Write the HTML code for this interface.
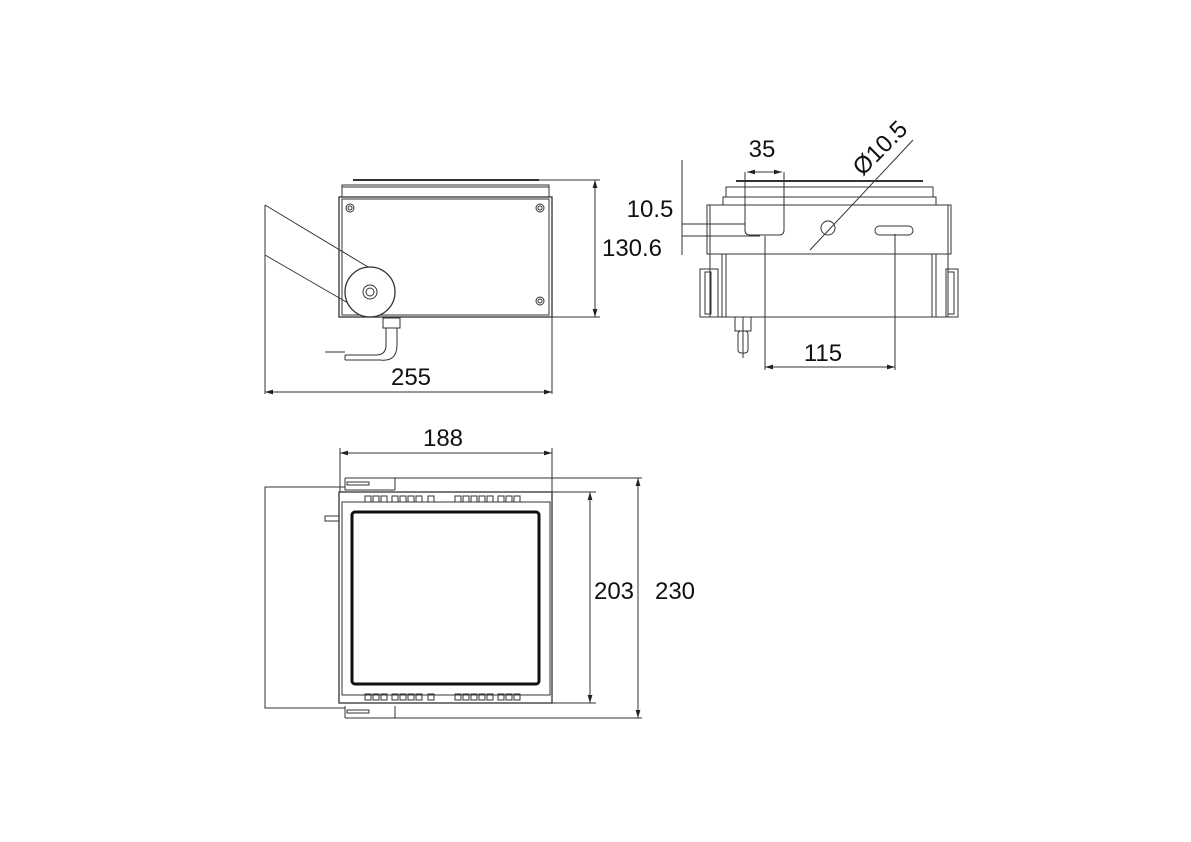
<!DOCTYPE html>
<html><head><meta charset="utf-8"><style>
html,body{margin:0;padding:0;background:#fff}
svg{display:block}
text{font-family:"Liberation Sans",sans-serif;font-size:24px;fill:#111}
</style></head><body>
<svg width="1191" height="842" viewBox="0 0 1191 842" xmlns="http://www.w3.org/2000/svg">
<defs>
<marker id="a" viewBox="0 0 10 6" refX="10" refY="3" markerWidth="8" markerHeight="5" orient="auto-start-reverse"><path d="M0,0L10,3L0,6z" fill="#222"/></marker>
</defs>
<g fill="none" stroke="#333" stroke-width="1">
<!-- SIDE VIEW -->
<line x1="353" y1="180" x2="539" y2="180" stroke-width="2"/>
<rect x="342" y="185" width="207" height="12"/>
<line x1="342" y1="187" x2="549" y2="187"/>
<rect x="339" y="197" width="213" height="120" stroke-width="1.3"/>
<rect x="342" y="199" width="207" height="116"/>
<circle cx="350" cy="208" r="4"/><circle cx="350" cy="208" r="2"/>
<circle cx="540" cy="208" r="4"/><circle cx="540" cy="208" r="2"/>
<circle cx="540" cy="301" r="4"/><circle cx="540" cy="301" r="2"/>
<path d="M265,205 L373,270 M265,255 L348,303 M265,205 L265,255" fill="#fff"/>
<circle cx="370" cy="292" r="25" fill="#fff" stroke-width="1.3"/>
<circle cx="370" cy="292" r="7"/><circle cx="370" cy="292" r="4"/>
<rect x="383" y="318" width="17" height="10"/>
<path d="M386,328 L386,345 Q386,355 376,355 L345,355 M397,328 L397,345 Q397,362 380,360 L345,360"/>
<line x1="345" y1="355" x2="345" y2="360"/>
<line x1="325" y1="352" x2="345" y2="352"/>
<!-- dims side -->
<line x1="265" y1="255" x2="265" y2="394"/>
<line x1="552" y1="317" x2="552" y2="394"/>
<line x1="265" y1="392" x2="552" y2="392" marker-start="url(#a)" marker-end="url(#a)"/>
<line x1="539" y1="180" x2="600" y2="180"/>
<line x1="552" y1="317" x2="600" y2="317"/>
<line x1="595" y1="180" x2="595" y2="317" marker-start="url(#a)" marker-end="url(#a)"/>

<!-- FRONT VIEW -->
<line x1="736" y1="181" x2="923" y2="181" stroke-width="2"/>
<path d="M726,197 L726,187 L933,187 L933,197"/>
<path d="M723,205 L723,197 L936,197 L936,205"/>
<rect x="707" y="205" width="244" height="49"/>
<line x1="710" y1="205" x2="710" y2="254"/><line x1="948" y1="205" x2="948" y2="254"/>
<rect x="710" y="254" width="238" height="63"/>
<line x1="722" y1="254" x2="722" y2="317"/><line x1="726" y1="254" x2="726" y2="317"/>
<line x1="936" y1="254" x2="936" y2="317"/><line x1="932" y1="254" x2="932" y2="317"/>
<rect x="700" y="269" width="18" height="48"/><rect x="705" y="272" width="6" height="42"/>
<rect x="946" y="269" width="12" height="48"/><rect x="948" y="272" width="6" height="42"/>
<path d="M745,172 L745,230 Q745,235 750,235 L779,235 Q784,235 784,230 L784,172"/>
<rect x="875" y="226" width="38" height="9" rx="4.5"/>
<circle cx="828" cy="228" r="7"/>
<line x1="913" y1="140" x2="810" y2="250"/>
<rect x="735" y="317" width="16" height="14"/>
<rect x="738" y="331" width="10" height="22" rx="3"/>
<line x1="743" y1="317" x2="743" y2="358"/>
<!-- dims front -->
<line x1="747" y1="172" x2="782" y2="172" marker-start="url(#a)" marker-end="url(#a)"/>
<line x1="682" y1="160" x2="682" y2="255"/>
<line x1="682" y1="224" x2="745" y2="224"/>
<line x1="682" y1="236" x2="760" y2="236"/>
<line x1="765" y1="236" x2="765" y2="370"/>
<line x1="895" y1="234" x2="895" y2="370"/>
<line x1="765" y1="367" x2="895" y2="367" marker-start="url(#a)" marker-end="url(#a)"/>

<!-- TOP VIEW -->
<line x1="340" y1="453" x2="552" y2="453" marker-start="url(#a)" marker-end="url(#a)"/>
<line x1="340" y1="448" x2="340" y2="492"/>
<line x1="552" y1="448" x2="552" y2="492"/>
<path d="M345,487 L265,487 L265,708 L345,708"/>
<path d="M345,478 L395,478 L395,490 M345,478 L345,490 L395,490"/>
<rect x="347" y="482" width="22" height="3" stroke-width="1"/>
<path d="M345,718 L395,718 L395,706 M345,706 L345,718"/>
<rect x="347" y="710" width="22" height="3"/>
<line x1="395" y1="478" x2="642" y2="478"/>
<line x1="395" y1="718" x2="642" y2="718"/>
<rect x="339" y="492" width="213" height="211" stroke-width="1.3"/>
<rect x="342" y="502" width="208" height="193"/>
<rect x="352" y="512" width="187" height="172" rx="3" stroke="#111" stroke-width="3"/>
<rect x="325" y="516" width="14" height="5"/>
<line x1="552" y1="492" x2="596" y2="492"/>
<line x1="552" y1="703" x2="596" y2="703"/>
<line x1="590" y1="492" x2="590" y2="703" marker-start="url(#a)" marker-end="url(#a)"/>
<line x1="638" y1="478" x2="638" y2="718" marker-start="url(#a)" marker-end="url(#a)"/>
</g>
<g fill="none" stroke="#333" stroke-width="1">
<path d="M365,496h6v6h-6zM373,496h6v6h-6zM381,496h6v6h-6zM392,496h6v6h-6zM400,496h6v6h-6zM408,496h6v6h-6zM416,496h6v6h-6zM428,496h6v6h-6zM455,496h6v6h-6zM463,496h6v6h-6zM471,496h6v6h-6zM479,496h6v6h-6zM487,496h6v6h-6zM498,496h6v6h-6zM506,496h6v6h-6zM514,496h6v6h-6z"/>
<path d="M365,694h6v6h-6zM373,694h6v6h-6zM381,694h6v6h-6zM392,694h6v6h-6zM400,694h6v6h-6zM408,694h6v6h-6zM416,694h6v6h-6zM428,694h6v6h-6zM455,694h6v6h-6zM463,694h6v6h-6zM471,694h6v6h-6zM479,694h6v6h-6zM487,694h6v6h-6zM498,694h6v6h-6zM506,694h6v6h-6zM514,694h6v6h-6z"/>
</g>
<text x="411" y="385" text-anchor="middle">255</text>
<text x="632" y="256" text-anchor="middle">130.6</text>
<text x="650" y="217" text-anchor="middle">10.5</text>
<text x="762" y="157" text-anchor="middle">35</text>
<text x="823" y="361" text-anchor="middle">115</text>
<text x="443" y="446" text-anchor="middle">188</text>
<text x="614" y="599" text-anchor="middle">203</text>
<text x="675" y="599" text-anchor="middle">230</text>
<text x="880" y="156" text-anchor="middle" transform="rotate(-45 880 148)">Ø10.5</text>
</svg>
</body></html>
